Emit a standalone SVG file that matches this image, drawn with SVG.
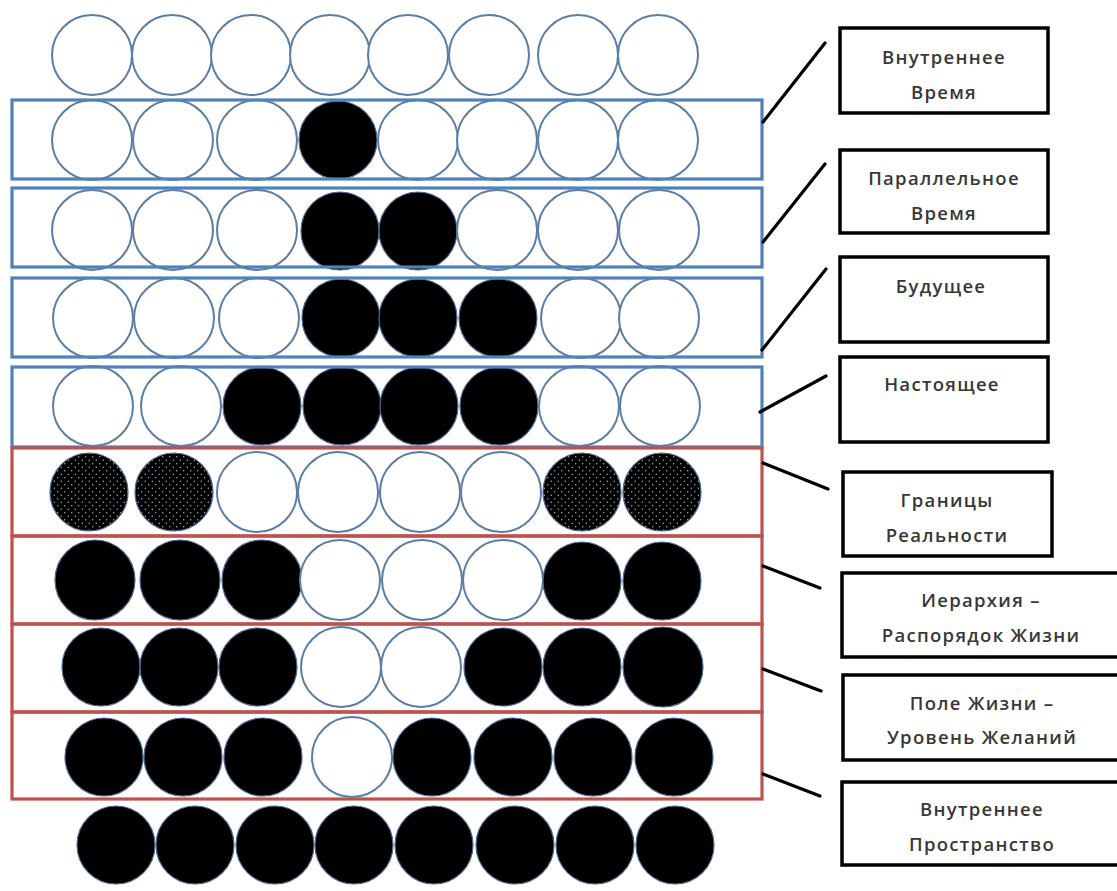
<svg xmlns="http://www.w3.org/2000/svg" width="1117" height="891" viewBox="0 0 1117 891">
<style>
.w{fill:#fff;stroke:#5b7ea6;stroke-width:2}
.b{fill:#000;stroke:#4a6a92;stroke-width:1.2}
.d{fill:url(#dots);stroke:#4a6a92;stroke-width:1.2}
.blue{fill:none;stroke:#4f81bd;stroke-width:3.2}
.red{fill:none;stroke:#c0504d;stroke-width:3.2}
.box{fill:#fff;stroke:#000;stroke-width:3.5}
.conn line{stroke:#000;stroke-width:3.2;stroke-linecap:round}
text{font-family:"Open Sans","Liberation Sans",sans-serif;font-size:18.5px;font-weight:600;fill:#383838;text-anchor:middle;letter-spacing:1.3px}
</style>
<defs>
<pattern id="dots" width="7" height="7" patternUnits="userSpaceOnUse">
<rect width="7" height="7" fill="#000"/>
<circle cx="1.75" cy="1.75" r="0.7" fill="#bbb"/>
<circle cx="5.25" cy="5.25" r="0.7" fill="#bbb"/>
</pattern>
</defs>
<rect width="1117" height="891" fill="#fff"/>
<g id="grid">
<!-- row 0 -->
<circle class="w" cx="92" cy="55" r="40"/><circle class="w" cx="172" cy="55" r="40"/><circle class="w" cx="251" cy="55" r="40"/><circle class="w" cx="330" cy="55" r="40"/><circle class="w" cx="408" cy="55" r="40"/><circle class="w" cx="489" cy="55" r="40"/><circle class="w" cx="578" cy="55" r="40"/><circle class="w" cx="658" cy="55" r="40"/>
<!-- row 1 -->
<circle class="w" cx="92" cy="140" r="40"/><circle class="w" cx="173" cy="140" r="40"/><circle class="w" cx="257" cy="140" r="40"/><circle class="b" cx="338" cy="140" r="39"/><circle class="w" cx="418" cy="140" r="40"/><circle class="w" cx="497" cy="140" r="40"/><circle class="w" cx="578" cy="140" r="40"/><circle class="w" cx="658" cy="140" r="40"/>
<!-- row 2 -->
<circle class="w" cx="92" cy="230" r="40"/><circle class="w" cx="173" cy="230" r="40"/><circle class="w" cx="257" cy="230" r="40"/><circle class="b" cx="340" cy="231" r="39"/><circle class="b" cx="418" cy="231" r="39"/><circle class="w" cx="497" cy="230" r="40"/><circle class="w" cx="578" cy="230" r="40"/><circle class="w" cx="659" cy="230" r="40"/>
<!-- row 3 -->
<circle class="w" cx="93" cy="318" r="40"/><circle class="w" cx="174" cy="318" r="40"/><circle class="w" cx="259" cy="318" r="40"/><circle class="b" cx="341" cy="318" r="39"/><circle class="b" cx="418" cy="318" r="39"/><circle class="b" cx="498" cy="318" r="39"/><circle class="w" cx="581" cy="318" r="40"/><circle class="w" cx="659" cy="318" r="40"/>
<!-- row 4 -->
<circle class="w" cx="93" cy="406" r="40"/><circle class="w" cx="181" cy="406" r="40"/><circle class="b" cx="262" cy="406" r="39"/><circle class="b" cx="342" cy="406" r="39"/><circle class="b" cx="419" cy="406" r="39"/><circle class="b" cx="499" cy="406" r="39"/><circle class="w" cx="579" cy="406" r="40"/><circle class="w" cx="660" cy="406" r="40"/>
<!-- row 5 -->
<circle class="d" cx="89" cy="492" r="39"/><circle class="d" cx="174" cy="492" r="39"/><circle class="w" cx="257" cy="492" r="40"/><circle class="w" cx="338" cy="492" r="40"/><circle class="w" cx="420" cy="492" r="40"/><circle class="w" cx="501" cy="492" r="40"/><circle class="d" cx="582" cy="492" r="39"/><circle class="d" cx="662" cy="492" r="39"/>
<!-- row 6 -->
<circle class="b" cx="95" cy="580" r="40"/><circle class="b" cx="180" cy="580" r="40"/><circle class="b" cx="262" cy="580" r="40"/><circle class="w" cx="340" cy="580" r="40"/><circle class="w" cx="422" cy="580" r="40"/><circle class="w" cx="503" cy="580" r="40"/><circle class="b" cx="582" cy="581" r="39"/><circle class="b" cx="662" cy="581" r="39"/>
<!-- row 7 -->
<circle class="b" cx="101" cy="667" r="39"/><circle class="b" cx="179" cy="667" r="39"/><circle class="b" cx="258" cy="667" r="39"/><circle class="w" cx="341" cy="667" r="40"/><circle class="w" cx="421" cy="667" r="40"/><circle class="b" cx="503" cy="667" r="39"/><circle class="b" cx="582" cy="667" r="39"/><circle class="b" cx="663" cy="667" r="40"/>
<!-- row 8 -->
<circle class="b" cx="104" cy="757" r="39"/><circle class="b" cx="183" cy="757" r="39"/><circle class="b" cx="263" cy="757" r="39"/><circle class="w" cx="352" cy="757" r="40"/><circle class="b" cx="432" cy="757" r="39"/><circle class="b" cx="513" cy="757" r="39"/><circle class="b" cx="593" cy="757" r="39"/><circle class="b" cx="674" cy="757" r="39"/>
<!-- row 9 -->
<circle class="b" cx="116" cy="845" r="39"/><circle class="b" cx="195" cy="845" r="39"/><circle class="b" cx="275" cy="845" r="39"/><circle class="b" cx="354" cy="845" r="39"/><circle class="b" cx="434" cy="845" r="39"/><circle class="b" cx="515" cy="845" r="39"/><circle class="b" cx="595" cy="845" r="39"/><circle class="b" cx="675" cy="845" r="39"/>
</g>
<g id="bands">
<rect id="band-1" class="blue" x="12" y="100" width="750" height="79"/>
<rect id="band-2" class="blue" x="12" y="188" width="750" height="79"/>
<rect id="band-3" class="blue" x="12" y="278" width="750" height="79"/>
<rect id="band-4" class="blue" x="12" y="367" width="750" height="80"/>
<rect id="band-5" class="red" x="12" y="448" width="750" height="88"/>
<rect id="band-6" class="red" x="12" y="536" width="750" height="88"/>
<rect id="band-7" class="red" x="12" y="624" width="750" height="88"/>
<rect id="band-8" class="red" x="12" y="712" width="750" height="87"/>
</g>
<g id="connectors" class="conn">
<line x1="763" y1="122" x2="825" y2="43"/>
<line x1="763" y1="242" x2="825" y2="164"/>
<line x1="762" y1="350" x2="826" y2="269"/>
<line x1="760" y1="412" x2="826" y2="376"/>
<line x1="763" y1="463" x2="828" y2="489"/>
<line x1="763" y1="566" x2="820" y2="588"/>
<line x1="763" y1="669" x2="821" y2="691"/>
<line x1="763" y1="774" x2="820" y2="796"/>
</g>
<g id="label-1"><rect class="box" x="840" y="28" width="208" height="85"/><text x="944" y="64">Внутреннее</text><text x="944" y="99">Время</text></g>
<g id="label-2"><rect class="box" x="840" y="150" width="208" height="83"/><text x="944" y="185">Параллельное</text><text x="944" y="220">Время</text></g>
<g id="label-3"><rect class="box" x="840" y="257" width="208" height="85"/><text x="941" y="293">Будущее</text></g>
<g id="label-4"><rect class="box" x="840" y="357" width="208" height="85"/><text x="942" y="391">Настоящее</text></g>
<g id="label-5"><rect class="box" x="843" y="472" width="209" height="84"/><text x="947" y="507">Границы</text><text x="947" y="542">Реальности</text></g>
<g id="label-6"><rect class="box" x="842" y="573" width="290" height="84"/><text x="981" y="607">Иерархия –</text><text x="981" y="642">Распорядок Жизни</text></g>
<g id="label-7"><rect class="box" x="843" y="675" width="290" height="85"/><text x="982" y="710">Поле Жизни –</text><text x="982" y="744">Уровень Желаний</text></g>
<g id="label-8"><rect class="box" x="842" y="782" width="290" height="83"/><text x="982" y="816">Внутреннее</text><text x="982" y="851">Пространство</text></g>
</svg>
